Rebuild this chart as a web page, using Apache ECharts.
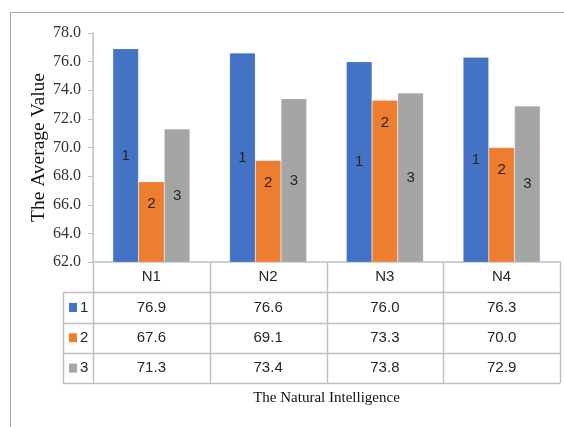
<!DOCTYPE html>
<html>
<head>
<meta charset="utf-8">
<script src="https://cdn.jsdelivr.net/npm/echarts@6/dist/echarts.min.js"></script>
<style>
  html, body { margin: 0; padding: 0; background: #fff; }
  #main { width: 564px; height: 427px; }
</style>
</head>
<body>
<div id="main"></div>
<script>
const categories = ['N1', 'N2', 'N3', 'N4']
const seriesNames = ['1', '2', '3']
const values1 = [76.9, 76.6, 76.0, 76.3]
const values2 = [67.6, 69.1, 73.3, 70.0]
const values3 = [71.3, 73.4, 73.8, 72.9]
const colors = ['#4472C4', '#ED7D31', '#A5A5A5']
const allValues = [values1, values2, values3]

// layout
const plotL = 93, plotR = 560, plotT = 33, plotB = 262
const rowH = 30.3
const keyL = 63
const lineColor = '#c0c0c0'
const sans = '"Liberation Sans", Arial, sans-serif'
const serif = '"Liberation Serif", "Times New Roman", serif'

const chart = echarts.init(document.getElementById('main'))

function tableGraphics() {
  const els = []
  const bottom = plotB + rowH * 4
  const colW = (plotR - plotL) / categories.length
  // vertical lines of the table
  for (let i = 0; i <= categories.length; i++) {
    const x = Math.round(plotL + colW * i) + 0.5
    els.push({ type: 'line', shape: { x1: x, y1: plotB, x2: x, y2: bottom }, style: { stroke: lineColor, lineWidth: 1.5 } })
  }
  els.push({ type: 'line', shape: { x1: keyL + 0.5, y1: plotB + rowH, x2: keyL + 0.5, y2: bottom }, style: { stroke: lineColor, lineWidth: 1.5 } })
  // horizontal lines
  for (let r = 1; r <= 4; r++) {
    const y = Math.round(plotB + rowH * r) + 0.5
    els.push({ type: 'line', shape: { x1: keyL, y1: y, x2: plotR, y2: y }, style: { stroke: lineColor, lineWidth: 1.5 } })
  }
  // legend keys in the first column
  seriesNames.forEach((name, i) => {
    const cy = plotB + rowH * (i + 1.5)
    els.push({ type: 'rect', shape: { x: keyL + 6, y: cy - 4.5, width: 8, height: 9 }, style: { fill: colors[i] } })
    els.push({ type: 'text', x: keyL + 17, y: cy, style: { text: name, fontFamily: sans, fontSize: 15, fill: '#262626', verticalAlign: 'middle' } })
  })
  // outer frame (top and left edges only visible)
  els.push({ type: 'rect', shape: { x: 10.5, y: 12.5, width: 700, height: 600 }, style: { fill: null, stroke: '#a6a6a6', lineWidth: 1 }, z: -1 })
  return els
}

function barSeries(idx, labelPos, dist) {
  return {
    name: seriesNames[idx],
    type: 'bar',
    data: allValues[idx],
    barWidth: '22%',
    barGap: '0%',
    itemStyle: { color: colors[idx], borderColor: 'rgba(255,255,255,0.35)', borderWidth: 0.5 },
    label: {
      show: true,
      position: labelPos,
      distance: dist,
      formatter: seriesNames[idx],
      fontFamily: sans,
      fontSize: 15,
      color: '#262626'
    }
  }
}

chart.setOption({
  animation: false,
  color: colors,
  grid: { left: plotL, right: 564 - plotR, top: plotT, bottom: 427 - plotB, containLabel: false },
  xAxis: {
    type: 'category',
    data: categories,
    name: 'The Natural Intelligence',
    nameLocation: 'middle',
    nameGap: 129,
    nameMoveOverlap: false,
    nameTextStyle: { fontFamily: serif, fontSize: 15, color: '#111' },
    axisLine: { lineStyle: { color: lineColor, width: 1.5 } },
    axisTick: { show: false },
    axisLabel: {
      interval: 0,
      margin: 0,
      formatter: function (v, i) {
        return ['{h|' + v + '}'].concat(allValues.map(a => '{v|' + a[i].toFixed(1) + '}')).join('\n')
      },
      rich: {
        h: { fontFamily: sans, fontSize: 15, color: '#262626', lineHeight: rowH },
        v: { fontFamily: sans, fontSize: 15, color: '#262626', lineHeight: rowH }
      }
    }
  },
  yAxis: {
    type: 'value',
    min: 62,
    max: 78,
    interval: 2,
    name: 'The Average Value',
    nameLocation: 'middle',
    nameGap: 44,
    nameMoveOverlap: false,
    nameTextStyle: { fontFamily: serif, fontSize: 19.5, color: '#111' },
    axisLine: { show: true, lineStyle: { color: lineColor, width: 1.5 } },
    axisTick: { show: true, length: 5, lineStyle: { color: lineColor } },
    axisLabel: {
      margin: 12,
      fontFamily: serif,
      fontSize: 16,
      color: '#333',
      formatter: v => v.toFixed(1)
    },
    splitLine: { show: false }
  },
  series: [
    barSeries(0, 'inside', 5),
    barSeries(1, 'insideTop', 15),
    barSeries(2, 'inside', 5)
  ],
  graphic: tableGraphics()
})
</script>
</body>
</html>
